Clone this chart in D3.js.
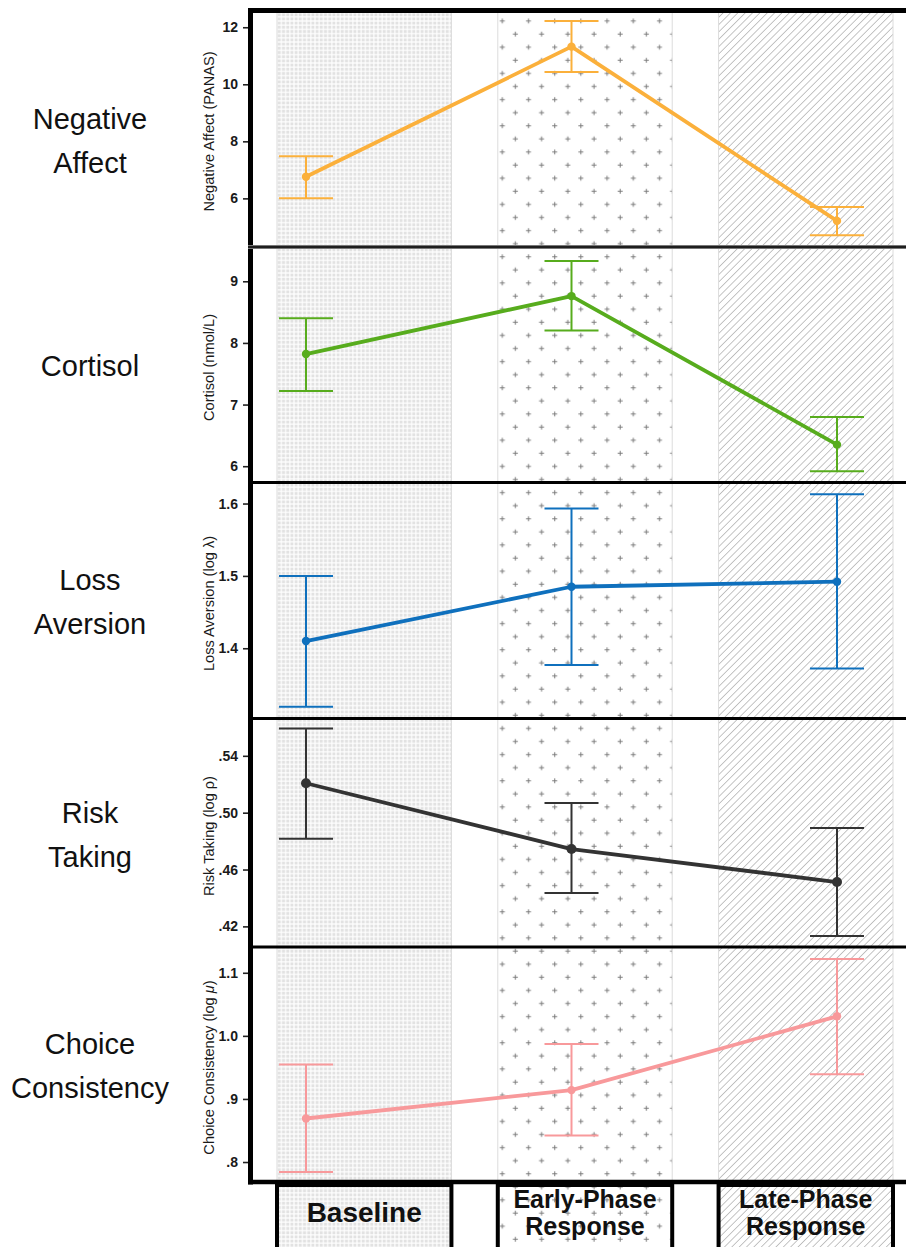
<!DOCTYPE html>
<html>
<head>
<meta charset="utf-8">
<script src="https://cdn.jsdelivr.net/npm/d3@7"></script>
<style>
  body { margin: 0; background: #fff; }
  svg { display: block; font-family: "Liberation Sans", Arial, sans-serif; }
</style>
</head>
<body>
<svg id="chart" width="906" height="1247"></svg>
<script>
// categories
const phases = ["Baseline", "Early-Phase Response", "Late-Phase Response"];
const phaseLines = [["Baseline"], ["Early-Phase", "Response"], ["Late-Phase", "Response"]];
const rowLabels = [["Negative", "Affect"], ["Cortisol"], ["Loss", "Aversion"], ["Risk", "Taking"], ["Choice", "Consistency"]];
const axisTitles = ["Negative Affect (PANAS)", "Cortisol (nmol/L)", "Loss Aversion (log λ)", "Risk Taking (log ρ)", "Choice Consistency (log μ)"];

// negative affect
const negAffectMean = [6.76, 11.32, 5.21];
const negAffectLow = [6.00, 10.43, 4.71];
const negAffectHigh = [7.48, 12.22, 5.70];
const negAffectTicks = [6, 8, 10, 12];
const negAffectTickLabels = ["6", "8", "10", "12"];
const negAffectDomain = [4.33, 12.57];

// cortisol
const cortisolMean = [7.82, 8.76, 6.35];
const cortisolLow = [7.22, 8.20, 5.92];
const cortisolHigh = [8.40, 9.33, 6.80];
const cortisolTicks = [6, 7, 8, 9];
const cortisolTickLabels = ["6", "7", "8", "9"];
const cortisolDomain = [5.76, 9.54];

// loss aversion
const lossMean = [1.410, 1.485, 1.492];
const lossLow = [1.319, 1.377, 1.372];
const lossHigh = [1.500, 1.593, 1.613];
const lossTicks = [1.4, 1.5, 1.6];
const lossTickLabels = ["1.4", "1.5", "1.6"];
const lossDomain = [1.305, 1.627];

// risk taking
const riskMean = [0.5207, 0.4744, 0.4512];
const riskLow = [0.4817, 0.4435, 0.4132];
const riskHigh = [0.5593, 0.5068, 0.4892];
const riskTicks = [0.42, 0.46, 0.50, 0.54];
const riskTickLabels = [".42", ".46", ".50", ".54"];
const riskDomain = [0.4062, 0.5652];

// choice consistency
const choiceMean = [0.869, 0.914, 1.031];
const choiceLow = [0.784, 0.842, 0.939];
const choiceHigh = [0.9546, 0.987, 1.122];
const choiceTicks = [0.8, 0.9, 1.0, 1.1];
const choiceTickLabels = [".8", ".9", "1.0", "1.1"];
const choiceDomain = [0.7715, 1.1377];

const colors = ["#fbb03b", "#57ac1d", "#0f70bd", "#333333", "#f8999b"];

const panels = [
	{ mean: negAffectMean, low: negAffectLow, high: negAffectHigh, ticks: negAffectTicks, labels: negAffectTickLabels, domain: negAffectDomain, range: [246, 11], labelShift: 11 },
	{ mean: cortisolMean, low: cortisolLow, high: cortisolHigh, ticks: cortisolTicks, labels: cortisolTickLabels, domain: cortisolDomain, range: [481, 248], labelShift: 0 },
	{ mean: lossMean, low: lossLow, high: lossHigh, ticks: lossTicks, labels: lossTickLabels, domain: lossDomain, range: [717, 484], labelShift: 0 },
	{ mean: riskMean, low: riskLow, high: riskHigh, ticks: riskTicks, labels: riskTickLabels, domain: riskDomain, range: [946, 720], labelShift: 1 },
	{ mean: choiceMean, low: choiceLow, high: choiceHigh, ticks: choiceTicks, labels: choiceTickLabels, domain: choiceDomain, range: [1180, 949], labelShift: 0 }
];

const svg = d3.select('#chart');
const defs = svg.append('defs');

// baseline: fine grey grid of squares
const grid = defs.append('pattern')
	.attr('id', 'grid')
	.attr('patternUnits', 'userSpaceOnUse')
	.attr('width', 4.2).attr('height', 4.2);
grid.append('rect').attr('width', 4.2).attr('height', 4.2).attr('fill', '#fff');
grid.append('rect').attr('x', 0.6).attr('y', 0.6).attr('width', 3).attr('height', 3).attr('fill', '#e2e2e2');

// early phase: staggered plus signs
const plus = defs.append('pattern')
	.attr('id', 'plus')
	.attr('patternUnits', 'userSpaceOnUse')
	.attr('x', 495.75).attr('y', 14.45)
	.attr('width', 26.2).attr('height', 26.2);
plus.append('rect').attr('width', 26.2).attr('height', 26.2).attr('fill', '#fff');
plus.append('path')
	.attr('d', 'M4.05,6.55h5M6.55,4.05v5M17.15,19.65h5M19.65,17.15v5')
	.attr('stroke', '#7a7a7a').attr('stroke-width', 1);

// late phase: diagonal hatch
const hatch = defs.append('pattern')
	.attr('id', 'hatch')
	.attr('patternUnits', 'userSpaceOnUse')
	.attr('width', 5.2).attr('height', 5.2)
	.attr('patternTransform', 'rotate(45)');
hatch.append('rect').attr('width', 5.2).attr('height', 5.2).attr('fill', '#fff');
hatch.append('line').attr('x1', 0).attr('y1', 0).attr('x2', 0).attr('y2', 5.2)
	.attr('stroke', '#909090').attr('stroke-width', 1.05);

const fills = ['url(#grid)', 'url(#plus)', 'url(#hatch)'];

const band = d3.scaleBand()
	.domain(phases)
	.range([277, 893])
	.paddingInner(0.21)
	.paddingOuter(0);

const x = d3.scalePoint()
	.domain(phases)
	.range([306, 837]);

// shaded phase columns
svg.append('g').selectAll('rect')
	.data(phases)
	.join('rect')
	.attr('x', d => band(d))
	.attr('y', 12)
	.attr('width', band.bandwidth())
	.attr('height', 1240)
	.attr('fill', (d, i) => fills[i])
	.attr('stroke', '#dcdcdc')
	.attr('stroke-width', 1);

// frame
const frame = svg.append('g').attr('stroke', '#000');
frame.append('line').attr('x1', 250.5).attr('x2', 250.5).attr('y1', 8).attr('y2', 1184.5).attr('stroke-width', 5);
frame.append('line').attr('x1', 248).attr('x2', 906).attr('y1', 10.5).attr('y2', 10.5).attr('stroke-width', 5);
frame.append('line').attr('x1', 248).attr('x2', 906).attr('y1', 247).attr('y2', 247).attr('stroke-width', 4).attr('stroke', '#777');
frame.append('line').attr('x1', 248).attr('x2', 906).attr('y1', 247).attr('y2', 247).attr('stroke-width', 1.6);
[482.5, 718.5, 947].forEach(y => {
	frame.append('line').attr('x1', 248).attr('x2', 906).attr('y1', y).attr('y2', y).attr('stroke-width', 3.2);
});
frame.append('line').attr('x1', 248).attr('x2', 906).attr('y1', 1182).attr('y2', 1182).attr('stroke-width', 4.5);

// phase label boxes
const boxes = svg.append('g');
boxes.selectAll('rect')
	.data(phases)
	.join('rect')
	.attr('x', d => band(d))
	.attr('y', 1185)
	.attr('width', band.bandwidth())
	.attr('height', 80)
	.attr('fill', (d, i) => fills[i])
	.attr('stroke', '#000')
	.attr('stroke-width', 4);

boxes.selectAll('g.label')
	.data(phases)
	.join('g')
	.attr('class', 'label')
	.each(function (d, i) {
		const cx = band(d) + band.bandwidth() / 2;
		const lines = phaseLines[i];
		d3.select(this).selectAll('text')
			.data(lines)
			.join('text')
			.attr('x', cx)
			.attr('y', (t, j) => lines.length === 1 ? 1222 : 1208 + j * 27)
			.attr('text-anchor', 'middle')
			.attr('font-size', lines.length === 1 ? 28 : 25)
			.attr('font-weight', 'bold')
			.attr('fill', '#111')
			.text(t => t);
	});

// panels
panels.forEach((p, k) => {
	const y = d3.scaleLinear().domain(p.domain).range(p.range);
	const g = svg.append('g');
	const midY = (p.range[0] + p.range[1]) / 2;

	const axis = d3.axisLeft(y)
		.tickValues(p.ticks)
		.tickFormat((d, i) => p.labels[i])
		.tickSize(5)
		.tickPadding(5);
	const ag = g.append('g')
		.attr('transform', 'translate(248,0)')
		.call(axis);
	ag.select('.domain').remove();
	ag.selectAll('.tick line').attr('stroke', '#222').attr('stroke-width', 1.6);
	ag.selectAll('.tick text')
		.attr('font-family', '"Liberation Sans", Arial, sans-serif')
		.attr('font-size', 14)
		.attr('font-weight', 'bold')
		.attr('fill', '#1a1a1a');

	// axis title
	const title = g.append('text')
		.attr('transform', `translate(214,${midY + 3}) rotate(-90)`)
		.attr('text-anchor', 'middle')
		.attr('font-size', 14.6)
		.attr('fill', '#1a1a1a');
	if (k === 4) {
		title.append('tspan').text('Choice Consistency (log ');
		title.append('tspan').attr('font-style', 'italic').text('μ');
		title.append('tspan').text(')');
	} else {
		title.text(axisTitles[k]);
	}

	// row label
	const lines = rowLabels[k];
	const rowText = g.append('text')
		.attr('text-anchor', 'middle')
		.attr('font-size', 29)
		.attr('fill', '#111')
		.attr('x', 90)
		.attr('y', midY + 11 + p.labelShift - (lines.length - 1) * 22);
	rowText.selectAll('tspan')
		.data(lines)
		.join('tspan')
		.attr('x', 90)
		.attr('dy', (d, i) => i === 0 ? 0 : 44)
		.text(d => d);

	const c = colors[k];

	// error bars
	const eb = g.append('g').attr('stroke', c).attr('stroke-width', 2).attr('fill', 'none');
	eb.selectAll('line.v')
		.data(phases)
		.join('line')
		.attr('class', 'v')
		.attr('x1', d => x(d)).attr('x2', d => x(d))
		.attr('y1', (d, i) => y(p.low[i]))
		.attr('y2', (d, i) => y(p.high[i]));
	eb.selectAll('line.hi')
		.data(phases)
		.join('line')
		.attr('class', 'hi')
		.attr('x1', d => x(d) - 27).attr('x2', d => x(d) + 27)
		.attr('y1', (d, i) => y(p.high[i]))
		.attr('y2', (d, i) => y(p.high[i]));
	eb.selectAll('line.lo')
		.data(phases)
		.join('line')
		.attr('class', 'lo')
		.attr('x1', d => x(d) - 27).attr('x2', d => x(d) + 27)
		.attr('y1', (d, i) => y(p.low[i]))
		.attr('y2', (d, i) => y(p.low[i]));

	// mean line
	const line = d3.line()
		.x((d, i) => x(phases[i]))
		.y(d => y(d));
	g.append('path')
		.datum(p.mean)
		.attr('d', line)
		.attr('fill', 'none')
		.attr('stroke', c)
		.attr('stroke-width', 3.8)
		.attr('stroke-linejoin', 'round');

	g.selectAll('circle')
		.data(p.mean)
		.join('circle')
		.attr('cx', (d, i) => x(phases[i]))
		.attr('cy', d => y(d))
		.attr('r', k === 3 ? 5 : 4.2)
		.attr('fill', c);
});
</script>
</body>
</html>
